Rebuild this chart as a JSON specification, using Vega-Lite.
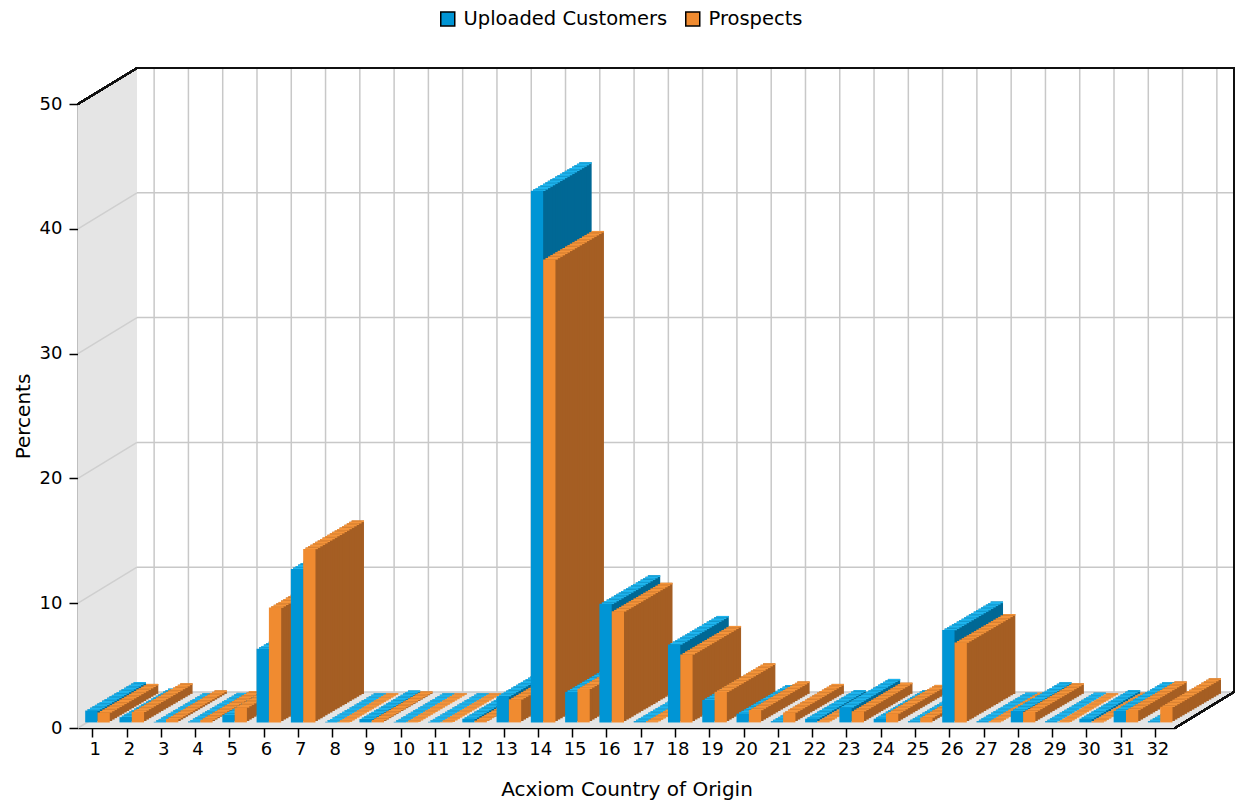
{
"$schema":"https://vega.github.io/schema/vega-lite/v6.json",
"width":1097,"height":624,
"autosize":{"type":"none"},
"padding":{"left":78,"top":104,"right":63,"bottom":75},
"background":"white",
"config":{"view":{"stroke":null},"font":"DejaVu Sans",
"axis":{"grid":false,"domainColor":"#000","domainWidth":1.5,"tickColor":"#000","tickWidth":1.5,"tickSize":9,"labelFont":"DejaVu Sans","labelFontSize":18,"labelColor":"#000","titleFont":"DejaVu Sans","titleFontSize":20,"titleFontWeight":"normal","titleColor":"#000"}},
"data":{"values":[
{"cat":1,"Uploaded":0.95,"Prospects":0.8},
{"cat":2,"Uploaded":0.42,"Prospects":0.85},
{"cat":3,"Uploaded":0.05,"Prospects":0.28},
{"cat":4,"Uploaded":0.08,"Prospects":0.22},
{"cat":5,"Uploaded":0.6,"Prospects":1.2},
{"cat":6,"Uploaded":5.9,"Prospects":9.2},
{"cat":7,"Uploaded":12.3,"Prospects":13.9},
{"cat":8,"Uploaded":0.05,"Prospects":0.05},
{"cat":9,"Uploaded":0.27,"Prospects":0.2},
{"cat":10,"Uploaded":0.05,"Prospects":0.05},
{"cat":11,"Uploaded":0.05,"Prospects":0.05},
{"cat":12,"Uploaded":0.3,"Prospects":0.15},
{"cat":13,"Uploaded":2.1,"Prospects":1.85},
{"cat":14,"Uploaded":42.6,"Prospects":37.1},
{"cat":15,"Uploaded":2.45,"Prospects":2.7},
{"cat":16,"Uploaded":9.5,"Prospects":8.9},
{"cat":17,"Uploaded":0.1,"Prospects":0.1},
{"cat":18,"Uploaded":6.25,"Prospects":5.45},
{"cat":19,"Uploaded":1.8,"Prospects":2.45},
{"cat":20,"Uploaded":0.7,"Prospects":1.0},
{"cat":21,"Uploaded":0.1,"Prospects":0.8},
{"cat":22,"Uploaded":0.3,"Prospects":0.1},
{"cat":23,"Uploaded":1.2,"Prospects":0.9},
{"cat":24,"Uploaded":0.3,"Prospects":0.72},
{"cat":25,"Uploaded":0.1,"Prospects":0.4},
{"cat":26,"Uploaded":7.4,"Prospects":6.4},
{"cat":27,"Uploaded":0.1,"Prospects":0.1},
{"cat":28,"Uploaded":0.93,"Prospects":0.85},
{"cat":29,"Uploaded":0.1,"Prospects":0.05},
{"cat":30,"Uploaded":0.3,"Prospects":0.1},
{"cat":31,"Uploaded":0.93,"Prospects":1.0},
{"cat":32,"Uploaded":0.1,"Prospects":1.25}
]},
"encoding":{"x":{"field":"cat","type":"ordinal","scale":{"paddingInner":0,"paddingOuter":0},
"axis":{"title":"Acxiom Country of Origin","labelAngle":0,"bandPosition":0.43,"labelPadding":3,"titlePadding":21}}},
"layer":[
{"mark":{"type":"point","shape":"M-17.14,-624L41.86,-660L41.86,-36L-17.14,0Z","size":4,"filled":true,"opacity":1,"color":"#e5e5e5","strokeWidth":0},
 "encoding":{"x":{"datum":1,"type":"ordinal"},"y":{"datum":0,"type":"quantitative","scale":{"domain":[0,50],"nice":false},"axis":{"title":"Percents","values":[0,10,20,30,40,50],"labelPadding":7,"titlePadding":6}}}},
{"mark":{"type":"point","shape":"M-17.14,0L1079.86,0L1138.86,-36L41.86,-36Z","size":4,"filled":true,"opacity":1,"color":"#e5e5e5","strokeWidth":0},
 "encoding":{"x":{"datum":1,"type":"ordinal"},"y":{"datum":0,"type":"quantitative"}}},
{"data":{"values":[{"v":0},{"v":10},{"v":20},{"v":30},{"v":40}]},
 "mark":{"type":"rule","color":"#cfcfcf","strokeWidth":1.5,"xOffset":-17.14,"x2Offset":41.86,"y2Offset":-36},
 "encoding":{"x":{"datum":1,"type":"ordinal"},"x2":{"datum":1},"y":{"field":"v","type":"quantitative"},"y2":{"field":"v"}}},
{"data":{"values":[{"v":0},{"v":10},{"v":20},{"v":30},{"v":40}]},
 "mark":{"type":"rule","color":"#c8c8c8","strokeWidth":1.5,"xOffset":41.86,"x2Offset":76.14,"yOffset":-36},
 "encoding":{"x":{"datum":1,"type":"ordinal"},"x2":{"datum":32},"y":{"field":"v","type":"quantitative"}}},
{"mark":{"type":"rule","color":"#c8c8c8","strokeWidth":1.5,"xOffset":59,"yOffset":-36,"y2Offset":-36},
 "encoding":{"y":{"datum":0,"type":"quantitative"},"y2":{"datum":50}}},
{"mark":{"type":"point","shape":"M-17.14,-624L41.86,-660L1138.86,-660L1138.86,-36L1079.86,0","size":4,"filled":false,"opacity":1,"stroke":"#111","strokeWidth":1.5},
 "encoding":{"x":{"datum":1,"type":"ordinal"},"y":{"datum":0,"type":"quantitative"}}},

{"mark":{"type":"bar","width":12.3,"xOffset":44.70,"yOffset":-34.10,"y2Offset":-34.10,"color":"#006895"},"encoding":{"y":{"field":"Uploaded","type":"quantitative"},"y2":{"datum":0}}},
{"mark":{"type":"bar","width":12.3,"xOffset":44.70,"yOffset":-34.10,"y2Offset":-32.45,"color":"#1eb4ee"},"encoding":{"y":{"field":"Uploaded","type":"quantitative"},"y2":{"field":"Uploaded"}}},
{"mark":{"type":"bar","width":12.3,"xOffset":57.00,"yOffset":-34.10,"y2Offset":-34.10,"color":"#a55e23"},"encoding":{"y":{"field":"Prospects","type":"quantitative"},"y2":{"datum":0}}},
{"mark":{"type":"bar","width":12.3,"xOffset":57.00,"yOffset":-34.10,"y2Offset":-32.45,"color":"#f4943a"},"encoding":{"y":{"field":"Prospects","type":"quantitative"},"y2":{"field":"Prospects"}}},

{"mark":{"type":"bar","width":12.3,"xOffset":42.275,"yOffset":-32.675,"y2Offset":-32.675,"color":"#006895"},"encoding":{"y":{"field":"Uploaded","type":"quantitative"},"y2":{"datum":0}}},
{"mark":{"type":"bar","width":12.3,"xOffset":42.275,"yOffset":-32.675,"y2Offset":-31.025,"color":"#1eb4ee"},"encoding":{"y":{"field":"Uploaded","type":"quantitative"},"y2":{"field":"Uploaded"}}},
{"mark":{"type":"bar","width":12.3,"xOffset":54.575,"yOffset":-32.675,"y2Offset":-32.675,"color":"#a55e23"},"encoding":{"y":{"field":"Prospects","type":"quantitative"},"y2":{"datum":0}}},
{"mark":{"type":"bar","width":12.3,"xOffset":54.575,"yOffset":-32.675,"y2Offset":-31.025,"color":"#f4943a"},"encoding":{"y":{"field":"Prospects","type":"quantitative"},"y2":{"field":"Prospects"}}},

{"mark":{"type":"bar","width":12.3,"xOffset":39.85,"yOffset":-31.25,"y2Offset":-31.25,"color":"#006895"},"encoding":{"y":{"field":"Uploaded","type":"quantitative"},"y2":{"datum":0}}},
{"mark":{"type":"bar","width":12.3,"xOffset":39.85,"yOffset":-31.25,"y2Offset":-29.60,"color":"#1eb4ee"},"encoding":{"y":{"field":"Uploaded","type":"quantitative"},"y2":{"field":"Uploaded"}}},
{"mark":{"type":"bar","width":12.3,"xOffset":52.15,"yOffset":-31.25,"y2Offset":-31.25,"color":"#a55e23"},"encoding":{"y":{"field":"Prospects","type":"quantitative"},"y2":{"datum":0}}},
{"mark":{"type":"bar","width":12.3,"xOffset":52.15,"yOffset":-31.25,"y2Offset":-29.60,"color":"#f4943a"},"encoding":{"y":{"field":"Prospects","type":"quantitative"},"y2":{"field":"Prospects"}}},

{"mark":{"type":"bar","width":12.3,"xOffset":37.425,"yOffset":-29.825,"y2Offset":-29.825,"color":"#006895"},"encoding":{"y":{"field":"Uploaded","type":"quantitative"},"y2":{"datum":0}}},
{"mark":{"type":"bar","width":12.3,"xOffset":37.425,"yOffset":-29.825,"y2Offset":-28.175,"color":"#1eb4ee"},"encoding":{"y":{"field":"Uploaded","type":"quantitative"},"y2":{"field":"Uploaded"}}},
{"mark":{"type":"bar","width":12.3,"xOffset":49.725,"yOffset":-29.825,"y2Offset":-29.825,"color":"#a55e23"},"encoding":{"y":{"field":"Prospects","type":"quantitative"},"y2":{"datum":0}}},
{"mark":{"type":"bar","width":12.3,"xOffset":49.725,"yOffset":-29.825,"y2Offset":-28.175,"color":"#f4943a"},"encoding":{"y":{"field":"Prospects","type":"quantitative"},"y2":{"field":"Prospects"}}},

{"mark":{"type":"bar","width":12.3,"xOffset":35.00,"yOffset":-28.40,"y2Offset":-28.40,"color":"#006895"},"encoding":{"y":{"field":"Uploaded","type":"quantitative"},"y2":{"datum":0}}},
{"mark":{"type":"bar","width":12.3,"xOffset":35.00,"yOffset":-28.40,"y2Offset":-26.75,"color":"#1eb4ee"},"encoding":{"y":{"field":"Uploaded","type":"quantitative"},"y2":{"field":"Uploaded"}}},
{"mark":{"type":"bar","width":12.3,"xOffset":47.30,"yOffset":-28.40,"y2Offset":-28.40,"color":"#a55e23"},"encoding":{"y":{"field":"Prospects","type":"quantitative"},"y2":{"datum":0}}},
{"mark":{"type":"bar","width":12.3,"xOffset":47.30,"yOffset":-28.40,"y2Offset":-26.75,"color":"#f4943a"},"encoding":{"y":{"field":"Prospects","type":"quantitative"},"y2":{"field":"Prospects"}}},

{"mark":{"type":"bar","width":12.3,"xOffset":32.575,"yOffset":-26.975,"y2Offset":-26.975,"color":"#006895"},"encoding":{"y":{"field":"Uploaded","type":"quantitative"},"y2":{"datum":0}}},
{"mark":{"type":"bar","width":12.3,"xOffset":32.575,"yOffset":-26.975,"y2Offset":-25.325,"color":"#1eb4ee"},"encoding":{"y":{"field":"Uploaded","type":"quantitative"},"y2":{"field":"Uploaded"}}},
{"mark":{"type":"bar","width":12.3,"xOffset":44.875,"yOffset":-26.975,"y2Offset":-26.975,"color":"#a55e23"},"encoding":{"y":{"field":"Prospects","type":"quantitative"},"y2":{"datum":0}}},
{"mark":{"type":"bar","width":12.3,"xOffset":44.875,"yOffset":-26.975,"y2Offset":-25.325,"color":"#f4943a"},"encoding":{"y":{"field":"Prospects","type":"quantitative"},"y2":{"field":"Prospects"}}},

{"mark":{"type":"bar","width":12.3,"xOffset":30.15,"yOffset":-25.55,"y2Offset":-25.55,"color":"#006895"},"encoding":{"y":{"field":"Uploaded","type":"quantitative"},"y2":{"datum":0}}},
{"mark":{"type":"bar","width":12.3,"xOffset":30.15,"yOffset":-25.55,"y2Offset":-23.90,"color":"#1eb4ee"},"encoding":{"y":{"field":"Uploaded","type":"quantitative"},"y2":{"field":"Uploaded"}}},
{"mark":{"type":"bar","width":12.3,"xOffset":42.45,"yOffset":-25.55,"y2Offset":-25.55,"color":"#a55e23"},"encoding":{"y":{"field":"Prospects","type":"quantitative"},"y2":{"datum":0}}},
{"mark":{"type":"bar","width":12.3,"xOffset":42.45,"yOffset":-25.55,"y2Offset":-23.90,"color":"#f4943a"},"encoding":{"y":{"field":"Prospects","type":"quantitative"},"y2":{"field":"Prospects"}}},

{"mark":{"type":"bar","width":12.3,"xOffset":27.725,"yOffset":-24.125,"y2Offset":-24.125,"color":"#006895"},"encoding":{"y":{"field":"Uploaded","type":"quantitative"},"y2":{"datum":0}}},
{"mark":{"type":"bar","width":12.3,"xOffset":27.725,"yOffset":-24.125,"y2Offset":-22.475,"color":"#1eb4ee"},"encoding":{"y":{"field":"Uploaded","type":"quantitative"},"y2":{"field":"Uploaded"}}},
{"mark":{"type":"bar","width":12.3,"xOffset":40.025,"yOffset":-24.125,"y2Offset":-24.125,"color":"#a55e23"},"encoding":{"y":{"field":"Prospects","type":"quantitative"},"y2":{"datum":0}}},
{"mark":{"type":"bar","width":12.3,"xOffset":40.025,"yOffset":-24.125,"y2Offset":-22.475,"color":"#f4943a"},"encoding":{"y":{"field":"Prospects","type":"quantitative"},"y2":{"field":"Prospects"}}},

{"mark":{"type":"bar","width":12.3,"xOffset":25.30,"yOffset":-22.70,"y2Offset":-22.70,"color":"#006895"},"encoding":{"y":{"field":"Uploaded","type":"quantitative"},"y2":{"datum":0}}},
{"mark":{"type":"bar","width":12.3,"xOffset":25.30,"yOffset":-22.70,"y2Offset":-21.05,"color":"#1eb4ee"},"encoding":{"y":{"field":"Uploaded","type":"quantitative"},"y2":{"field":"Uploaded"}}},
{"mark":{"type":"bar","width":12.3,"xOffset":37.60,"yOffset":-22.70,"y2Offset":-22.70,"color":"#a55e23"},"encoding":{"y":{"field":"Prospects","type":"quantitative"},"y2":{"datum":0}}},
{"mark":{"type":"bar","width":12.3,"xOffset":37.60,"yOffset":-22.70,"y2Offset":-21.05,"color":"#f4943a"},"encoding":{"y":{"field":"Prospects","type":"quantitative"},"y2":{"field":"Prospects"}}},

{"mark":{"type":"bar","width":12.3,"xOffset":22.875,"yOffset":-21.275,"y2Offset":-21.275,"color":"#006895"},"encoding":{"y":{"field":"Uploaded","type":"quantitative"},"y2":{"datum":0}}},
{"mark":{"type":"bar","width":12.3,"xOffset":22.875,"yOffset":-21.275,"y2Offset":-19.625,"color":"#1eb4ee"},"encoding":{"y":{"field":"Uploaded","type":"quantitative"},"y2":{"field":"Uploaded"}}},
{"mark":{"type":"bar","width":12.3,"xOffset":35.175,"yOffset":-21.275,"y2Offset":-21.275,"color":"#a55e23"},"encoding":{"y":{"field":"Prospects","type":"quantitative"},"y2":{"datum":0}}},
{"mark":{"type":"bar","width":12.3,"xOffset":35.175,"yOffset":-21.275,"y2Offset":-19.625,"color":"#f4943a"},"encoding":{"y":{"field":"Prospects","type":"quantitative"},"y2":{"field":"Prospects"}}},

{"mark":{"type":"bar","width":12.3,"xOffset":20.45,"yOffset":-19.85,"y2Offset":-19.85,"color":"#006895"},"encoding":{"y":{"field":"Uploaded","type":"quantitative"},"y2":{"datum":0}}},
{"mark":{"type":"bar","width":12.3,"xOffset":20.45,"yOffset":-19.85,"y2Offset":-18.20,"color":"#1eb4ee"},"encoding":{"y":{"field":"Uploaded","type":"quantitative"},"y2":{"field":"Uploaded"}}},
{"mark":{"type":"bar","width":12.3,"xOffset":32.75,"yOffset":-19.85,"y2Offset":-19.85,"color":"#a55e23"},"encoding":{"y":{"field":"Prospects","type":"quantitative"},"y2":{"datum":0}}},
{"mark":{"type":"bar","width":12.3,"xOffset":32.75,"yOffset":-19.85,"y2Offset":-18.20,"color":"#f4943a"},"encoding":{"y":{"field":"Prospects","type":"quantitative"},"y2":{"field":"Prospects"}}},

{"mark":{"type":"bar","width":12.3,"xOffset":18.025,"yOffset":-18.425,"y2Offset":-18.425,"color":"#006895"},"encoding":{"y":{"field":"Uploaded","type":"quantitative"},"y2":{"datum":0}}},
{"mark":{"type":"bar","width":12.3,"xOffset":18.025,"yOffset":-18.425,"y2Offset":-16.775,"color":"#1eb4ee"},"encoding":{"y":{"field":"Uploaded","type":"quantitative"},"y2":{"field":"Uploaded"}}},
{"mark":{"type":"bar","width":12.3,"xOffset":30.325,"yOffset":-18.425,"y2Offset":-18.425,"color":"#a55e23"},"encoding":{"y":{"field":"Prospects","type":"quantitative"},"y2":{"datum":0}}},
{"mark":{"type":"bar","width":12.3,"xOffset":30.325,"yOffset":-18.425,"y2Offset":-16.775,"color":"#f4943a"},"encoding":{"y":{"field":"Prospects","type":"quantitative"},"y2":{"field":"Prospects"}}},

{"mark":{"type":"bar","width":12.3,"xOffset":15.60,"yOffset":-17.00,"y2Offset":-17.00,"color":"#006895"},"encoding":{"y":{"field":"Uploaded","type":"quantitative"},"y2":{"datum":0}}},
{"mark":{"type":"bar","width":12.3,"xOffset":15.60,"yOffset":-17.00,"y2Offset":-15.35,"color":"#1eb4ee"},"encoding":{"y":{"field":"Uploaded","type":"quantitative"},"y2":{"field":"Uploaded"}}},
{"mark":{"type":"bar","width":12.3,"xOffset":27.90,"yOffset":-17.00,"y2Offset":-17.00,"color":"#a55e23"},"encoding":{"y":{"field":"Prospects","type":"quantitative"},"y2":{"datum":0}}},
{"mark":{"type":"bar","width":12.3,"xOffset":27.90,"yOffset":-17.00,"y2Offset":-15.35,"color":"#f4943a"},"encoding":{"y":{"field":"Prospects","type":"quantitative"},"y2":{"field":"Prospects"}}},

{"mark":{"type":"bar","width":12.3,"xOffset":13.175,"yOffset":-15.575,"y2Offset":-15.575,"color":"#006895"},"encoding":{"y":{"field":"Uploaded","type":"quantitative"},"y2":{"datum":0}}},
{"mark":{"type":"bar","width":12.3,"xOffset":13.175,"yOffset":-15.575,"y2Offset":-13.925,"color":"#1eb4ee"},"encoding":{"y":{"field":"Uploaded","type":"quantitative"},"y2":{"field":"Uploaded"}}},
{"mark":{"type":"bar","width":12.3,"xOffset":25.475,"yOffset":-15.575,"y2Offset":-15.575,"color":"#a55e23"},"encoding":{"y":{"field":"Prospects","type":"quantitative"},"y2":{"datum":0}}},
{"mark":{"type":"bar","width":12.3,"xOffset":25.475,"yOffset":-15.575,"y2Offset":-13.925,"color":"#f4943a"},"encoding":{"y":{"field":"Prospects","type":"quantitative"},"y2":{"field":"Prospects"}}},

{"mark":{"type":"bar","width":12.3,"xOffset":10.75,"yOffset":-14.15,"y2Offset":-14.15,"color":"#006895"},"encoding":{"y":{"field":"Uploaded","type":"quantitative"},"y2":{"datum":0}}},
{"mark":{"type":"bar","width":12.3,"xOffset":10.75,"yOffset":-14.15,"y2Offset":-12.50,"color":"#1eb4ee"},"encoding":{"y":{"field":"Uploaded","type":"quantitative"},"y2":{"field":"Uploaded"}}},
{"mark":{"type":"bar","width":12.3,"xOffset":23.05,"yOffset":-14.15,"y2Offset":-14.15,"color":"#a55e23"},"encoding":{"y":{"field":"Prospects","type":"quantitative"},"y2":{"datum":0}}},
{"mark":{"type":"bar","width":12.3,"xOffset":23.05,"yOffset":-14.15,"y2Offset":-12.50,"color":"#f4943a"},"encoding":{"y":{"field":"Prospects","type":"quantitative"},"y2":{"field":"Prospects"}}},

{"mark":{"type":"bar","width":12.3,"xOffset":8.325,"yOffset":-12.725,"y2Offset":-12.725,"color":"#006895"},"encoding":{"y":{"field":"Uploaded","type":"quantitative"},"y2":{"datum":0}}},
{"mark":{"type":"bar","width":12.3,"xOffset":8.325,"yOffset":-12.725,"y2Offset":-11.075,"color":"#1eb4ee"},"encoding":{"y":{"field":"Uploaded","type":"quantitative"},"y2":{"field":"Uploaded"}}},
{"mark":{"type":"bar","width":12.3,"xOffset":20.625,"yOffset":-12.725,"y2Offset":-12.725,"color":"#a55e23"},"encoding":{"y":{"field":"Prospects","type":"quantitative"},"y2":{"datum":0}}},
{"mark":{"type":"bar","width":12.3,"xOffset":20.625,"yOffset":-12.725,"y2Offset":-11.075,"color":"#f4943a"},"encoding":{"y":{"field":"Prospects","type":"quantitative"},"y2":{"field":"Prospects"}}},

{"mark":{"type":"bar","width":12.3,"xOffset":5.90,"yOffset":-11.30,"y2Offset":-11.30,"color":"#006895"},"encoding":{"y":{"field":"Uploaded","type":"quantitative"},"y2":{"datum":0}}},
{"mark":{"type":"bar","width":12.3,"xOffset":5.90,"yOffset":-11.30,"y2Offset":-9.65,"color":"#1eb4ee"},"encoding":{"y":{"field":"Uploaded","type":"quantitative"},"y2":{"field":"Uploaded"}}},
{"mark":{"type":"bar","width":12.3,"xOffset":18.20,"yOffset":-11.30,"y2Offset":-11.30,"color":"#a55e23"},"encoding":{"y":{"field":"Prospects","type":"quantitative"},"y2":{"datum":0}}},
{"mark":{"type":"bar","width":12.3,"xOffset":18.20,"yOffset":-11.30,"y2Offset":-9.65,"color":"#f4943a"},"encoding":{"y":{"field":"Prospects","type":"quantitative"},"y2":{"field":"Prospects"}}},

{"mark":{"type":"bar","width":12.3,"xOffset":3.475,"yOffset":-9.875,"y2Offset":-9.875,"color":"#006895"},"encoding":{"y":{"field":"Uploaded","type":"quantitative"},"y2":{"datum":0}}},
{"mark":{"type":"bar","width":12.3,"xOffset":3.475,"yOffset":-9.875,"y2Offset":-8.225,"color":"#1eb4ee"},"encoding":{"y":{"field":"Uploaded","type":"quantitative"},"y2":{"field":"Uploaded"}}},
{"mark":{"type":"bar","width":12.3,"xOffset":15.775,"yOffset":-9.875,"y2Offset":-9.875,"color":"#a55e23"},"encoding":{"y":{"field":"Prospects","type":"quantitative"},"y2":{"datum":0}}},
{"mark":{"type":"bar","width":12.3,"xOffset":15.775,"yOffset":-9.875,"y2Offset":-8.225,"color":"#f4943a"},"encoding":{"y":{"field":"Prospects","type":"quantitative"},"y2":{"field":"Prospects"}}},

{"mark":{"type":"bar","width":12.3,"xOffset":1.05,"yOffset":-8.45,"y2Offset":-8.45,"color":"#006895"},"encoding":{"y":{"field":"Uploaded","type":"quantitative"},"y2":{"datum":0}}},
{"mark":{"type":"bar","width":12.3,"xOffset":1.05,"yOffset":-8.45,"y2Offset":-6.80,"color":"#1eb4ee"},"encoding":{"y":{"field":"Uploaded","type":"quantitative"},"y2":{"field":"Uploaded"}}},
{"mark":{"type":"bar","width":12.3,"xOffset":13.35,"yOffset":-8.45,"y2Offset":-8.45,"color":"#a55e23"},"encoding":{"y":{"field":"Prospects","type":"quantitative"},"y2":{"datum":0}}},
{"mark":{"type":"bar","width":12.3,"xOffset":13.35,"yOffset":-8.45,"y2Offset":-6.80,"color":"#f4943a"},"encoding":{"y":{"field":"Prospects","type":"quantitative"},"y2":{"field":"Prospects"}}},

{"mark":{"type":"bar","width":12.3,"xOffset":-1.375,"yOffset":-7.025,"y2Offset":-7.025,"color":"#006895"},"encoding":{"y":{"field":"Uploaded","type":"quantitative"},"y2":{"datum":0}}},
{"mark":{"type":"bar","width":12.3,"xOffset":-1.375,"yOffset":-7.025,"y2Offset":-5.375,"color":"#1eb4ee"},"encoding":{"y":{"field":"Uploaded","type":"quantitative"},"y2":{"field":"Uploaded"}}},
{"mark":{"type":"bar","width":12.3,"xOffset":10.925,"yOffset":-7.025,"y2Offset":-7.025,"color":"#a55e23"},"encoding":{"y":{"field":"Prospects","type":"quantitative"},"y2":{"datum":0}}},
{"mark":{"type":"bar","width":12.3,"xOffset":10.925,"yOffset":-7.025,"y2Offset":-5.375,"color":"#f4943a"},"encoding":{"y":{"field":"Prospects","type":"quantitative"},"y2":{"field":"Prospects"}}},

{"mark":{"type":"bar","width":12.3,"xOffset":-3.8,"yOffset":-5.6,"y2Offset":-5.6},
 "encoding":{"y":{"field":"Uploaded","type":"quantitative"},"y2":{"datum":0},
 "color":{"datum":"Uploaded Customers","type":"nominal","scale":{"domain":["Uploaded Customers","Prospects"],"range":["#0095d5","#f08b30"]},
 "legend":{"title":null,"orient":"none","legendX":360,"legendY":-95,"direction":"horizontal","symbolType":"square","symbolSize":196,"labelFont":"DejaVu Sans","labelFontSize":19.5,"labelColor":"#000","labelOffset":6,"labelLimit":0,"columnPadding":14,"symbolStrokeColor":"#000","symbolStrokeWidth":1.5,
 "encode":{"symbols":{"update":{"stroke":{"value":"#000"},"strokeWidth":{"value":1.5}}}}}}}},
{"mark":{"type":"bar","width":12.3,"xOffset":8.5,"yOffset":-5.6,"y2Offset":-5.6},
 "encoding":{"y":{"field":"Prospects","type":"quantitative"},"y2":{"datum":0},"color":{"datum":"Prospects","type":"nominal"}}}
]
}
